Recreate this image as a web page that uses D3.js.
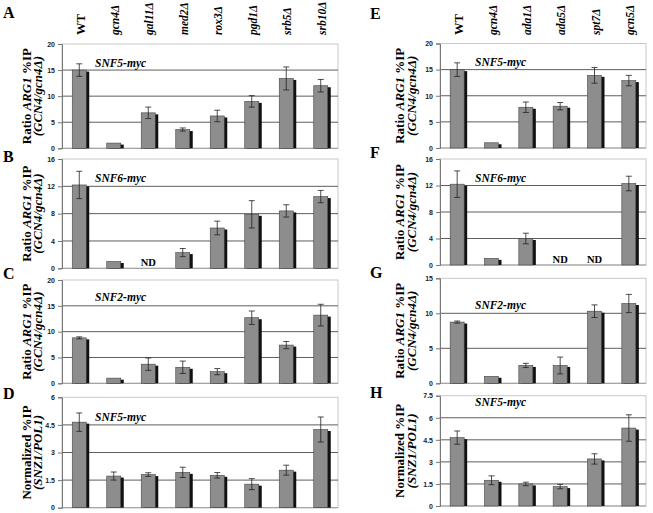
<!DOCTYPE html>
<html><head><meta charset="utf-8">
<script src="https://cdn.jsdelivr.net/npm/d3@7/dist/d3.min.js"></script>
<style>body{margin:0;background:#fff}</style>
</head><body><svg id="fig" width="653" height="513"></svg>
<script>
// ---- data ----
const leftStrains = ["WT","gcn4Δ","gal11Δ","med2Δ","rox3Δ","pgd1Δ","srb5Δ","srb10Δ"];
const rightStrains = ["WT","gcn4Δ","ada1Δ","ada5Δ","spt7Δ","gcn5Δ"];

const snf5LeftRatio = [15.0, 1.0, 6.8, 3.6, 6.2, 9.0, 13.4, 12.0];
const snf5LeftErr   = [1.2, 0, 1.1, 0.3, 1.1, 1.1, 2.2, 1.2];
const snf6LeftRatio = [12.2, 1.0, null, 2.3, 5.9, 7.9, 8.4, 10.5];
const snf6LeftErr   = [2.0, 0, null, 0.6, 1.0, 2.0, 0.9, 0.9];
const snf2LeftRatio = [8.8, 1.0, 3.7, 3.1, 2.25, 12.7, 7.4, 13.2];
const snf2LeftErr   = [0.2, 0, 1.2, 1.2, 0.6, 1.3, 0.7, 2.1];
const snz1LeftNorm  = [4.65, 1.72, 1.8, 1.92, 1.76, 1.28, 2.04, 4.25];
const snz1LeftErr   = [0.5, 0.22, 0.1, 0.28, 0.15, 0.3, 0.27, 0.68];

const snf5RightRatio = [15.0, 1.0, 7.8, 8.0, 13.9, 12.9];
const snf5RightErr   = [1.3, 0, 1.0, 0.7, 1.5, 1.0];
const snf6RightRatio = [12.2, 1.0, 4.0, null, null, 12.3];
const snf6RightErr   = [2.0, 0, 0.8, null, null, 1.1];
const snf2RightRatio = [8.75, 1.0, 2.55, 2.55, 10.3, 11.4];
const snf2RightErr   = [0.15, 0, 0.3, 1.2, 0.9, 1.3];
const snz1RightNorm  = [4.65, 1.75, 1.5, 1.32, 3.2, 5.3];
const snz1RightErr   = [0.45, 0.3, 0.12, 0.15, 0.35, 0.9];

const ticks20 = [0, 5, 10, 15, 20];
const ticks16 = [0, 4, 8, 12, 16];
const ticks15 = [0, 5, 10, 15];
const ticks6  = [0, 1.5, 3, 4.5, 6];
const ticks75 = [0, 1.5, 3, 4.5, 6, 7.5];

const ratioTitle = [["Ratio ", false], ["ARG1", true], [" %IP", false]];
const ratioTitle2 = [["(GCN4/gcn4Δ)", true]];
const normTitle = [["Normalized %IP", false]];
const normTitle2 = [["(SNZ1/POL1)", true]];

// ---- layout ----
const svg = d3.select("#fig");
const serif = "'Liberation Serif','Times New Roman',serif";
const sans = "'Liberation Sans',Arial,sans-serif";

const L = {x0: 62, x1: 338, titleX: [26, 37.5], letterX: 3, protX: 95};
const R = {x0: 440, x1: 646, titleX: [399.5, 411.5], letterX: 370, protX: 475};

const panels = [
  {side: L, letter: "A", letterY: 18, cats: leftStrains, vals: snf5LeftRatio, errs: snf5LeftErr, ticks: ticks20, y0: 148.3, y1: 44, prot: "SNF5-myc", protY: 63, t1: ratioTitle, t2: ratioTitle2, labels: true},
  {side: L, letter: "B", letterY: 162, cats: leftStrains, vals: snf6LeftRatio, errs: snf6LeftErr, ticks: ticks16, y0: 268.3, y1: 159, prot: "SNF6-myc", protY: 178, t1: ratioTitle, t2: ratioTitle2},
  {side: L, letter: "C", letterY: 279, cats: leftStrains, vals: snf2LeftRatio, errs: snf2LeftErr, ticks: ticks20, y0: 383.3, y1: 280, prot: "SNF2-myc", protY: 297, t1: ratioTitle, t2: ratioTitle2},
  {side: L, letter: "D", letterY: 399, cats: leftStrains, vals: snz1LeftNorm, errs: snz1LeftErr, ticks: ticks6, y0: 507.7, y1: 397.3, prot: "SNF5-myc", protY: 417, t1: normTitle, t2: normTitle2},
  {side: R, letter: "E", letterY: 19, cats: rightStrains, vals: snf5RightRatio, errs: snf5RightErr, ticks: ticks20, y0: 148, y1: 43.5, prot: "SNF5-myc", protY: 62, t1: ratioTitle, t2: ratioTitle2, labels: true},
  {side: R, letter: "F", letterY: 158, cats: rightStrains, vals: snf6RightRatio, errs: snf6RightErr, ticks: ticks16, y0: 265, y1: 159, prot: "SNF6-myc", protY: 178, t1: ratioTitle, t2: ratioTitle2},
  {side: R, letter: "G", letterY: 278, cats: rightStrains, vals: snf2RightRatio, errs: snf2RightErr, ticks: ticks15, y0: 383.3, y1: 278.3, prot: "SNF2-myc", protY: 305, t1: ratioTitle, t2: ratioTitle2},
  {side: R, letter: "H", letterY: 398, cats: rightStrains, vals: snz1RightNorm, errs: snz1RightErr, ticks: ticks75, y0: 506, y1: 395.7, prot: "SNF5-myc", protY: 402, t1: normTitle, t2: normTitle2},
];

function richText(g, parts) {
  parts.forEach(([t, it]) => g.append("tspan").attr("font-style", it ? "italic" : "normal").text(t));
}

panels.forEach(p => {
  const s = p.side;
  const x = d3.scaleBand().domain(p.cats).range([s.x0, s.x1]);
  const ymax = p.ticks[p.ticks.length - 1];
  const y = d3.scaleLinear().domain([0, ymax]).range([p.y0, p.y1]);
  const g = svg.append("g");

  // frame
  g.append("rect").attr("x", s.x0).attr("y", p.y1).attr("width", s.x1 - s.x0).attr("height", p.y0 - p.y1)
    .attr("fill", "none").attr("stroke", "#c8c8c8").attr("stroke-width", 1);
  // gridlines
  g.selectAll(".grid").data(p.ticks.filter(t => t > 0 && t < ymax)).enter().append("line")
    .attr("x1", s.x0).attr("x2", s.x1).attr("y1", d => y(d)).attr("y2", d => y(d))
    .attr("stroke", "#5e5e5e").attr("stroke-width", 1);
  // baseline
  g.append("line").attr("x1", s.x0).attr("x2", s.x1).attr("y1", p.y0).attr("y2", p.y0)
    .attr("stroke", "#9a9a9a").attr("stroke-width", 1);

  // y axis
  const ax = g.append("g").attr("transform", `translate(${s.x0},0)`)
    .call(d3.axisLeft(y).tickValues(p.ticks).tickSize(4).tickPadding(3).tickFormat(d3.format("~g")));
  ax.select(".domain").attr("stroke", "#777");
  ax.selectAll(".tick line").attr("stroke", "#777");
  ax.selectAll(".tick text").attr("font-family", sans).attr("font-size", 7).attr("font-weight", "bold").attr("fill", "#222");

  // bars
  const bw = 14, cx = d => x(d) + x.bandwidth() / 2 - 7;
  const data = p.cats.map((c, i) => ({c, v: p.vals[i], e: p.errs[i]}));
  const valid = data.filter(d => d.v !== null);
  g.selectAll(".shadow").data(valid).enter().append("rect")
    .attr("x", d => cx(d.c) + 3).attr("y", d => y(d.v) + 1.5).attr("width", bw).attr("height", d => p.y0 - y(d.v) - 1.5)
    .attr("fill", "#111");
  g.selectAll(".bar").data(valid).enter().append("rect")
    .attr("x", d => cx(d.c)).attr("y", d => y(d.v)).attr("width", bw).attr("height", d => p.y0 - y(d.v))
    .attr("fill", "#8d8d8d").attr("stroke", "#444").attr("stroke-width", 0.6);
  // error bars
  const eb = valid.filter(d => d.e > 0);
  const ex = d => cx(d.c) + bw / 2;
  g.selectAll(".ev").data(eb).enter().append("line")
    .attr("x1", ex).attr("x2", ex).attr("y1", d => y(d.v + d.e)).attr("y2", d => y(d.v - d.e))
    .attr("stroke", "#222").attr("stroke-width", 0.8);
  [1, -1].forEach(sg => {
    g.selectAll(".cap").data(eb).enter().append("line")
      .attr("x1", d => ex(d) - 3).attr("x2", d => ex(d) + 3)
      .attr("y1", d => y(d.v + sg * d.e)).attr("y2", d => y(d.v + sg * d.e))
      .attr("stroke", "#222").attr("stroke-width", 0.8);
  });
  // ND labels
  g.selectAll(".nd").data(data.filter(d => d.v === null)).enter().append("text")
    .attr("x", d => x(d.c) + x.bandwidth() / 2).attr("y", p.y0 - 2)
    .attr("text-anchor", "middle").attr("font-family", serif).attr("font-weight", "bold").attr("font-size", 10.5)
    .text("ND");

  // protein label
  g.append("text").attr("x", s.protX).attr("y", p.protY + 3.5).attr("font-family", serif)
    .attr("font-weight", "bold").attr("font-style", "italic").attr("font-size", 11.5).text(p.prot);

  // panel letter
  g.append("text").attr("x", s.letterX).attr("y", p.letterY).attr("font-family", serif)
    .attr("font-weight", "bold").attr("font-size", 16).text(p.letter);

  // y title
  const ym = (p.y0 + p.y1) / 2;
  [p.t1, p.t2].forEach((parts, i) => {
    const t = g.append("text").attr("transform", `translate(${s.titleX[i]},${ym}) rotate(-90)`)
      .attr("text-anchor", "middle").attr("dy", "0.35em").attr("font-family", serif)
      .attr("font-weight", "bold").attr("font-size", 13);
    richText(t, parts);
  });

  // category labels (top)
  if (p.labels) {
    g.selectAll(".cat").data(p.cats).enter().append("text")
      .attr("transform", d => `translate(${x(d) + x.bandwidth() / 2 + 1},35) rotate(-90)`)
      .attr("dy", "0.35em").attr("text-anchor", "start")
      .attr("font-family", serif).attr("font-weight", "bold").attr("font-size", d => d === "WT" ? 12.5 : 11.5)
      .attr("font-style", d => d === "WT" ? "normal" : "italic")
      .text(d => d);
  }
});
</script></body></html>
